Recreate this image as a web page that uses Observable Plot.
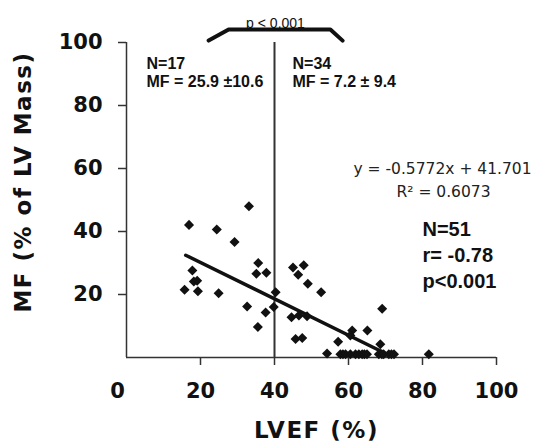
<!DOCTYPE html>
<html>
<head>
<meta charset="utf-8">
<script src="https://cdn.jsdelivr.net/npm/d3@7"></script>
<script src="https://cdn.jsdelivr.net/npm/@observablehq/plot@0.6"></script>
<style>
  html, body { margin: 0; padding: 0; background: #fff; }
  .axis-title text { letter-spacing: 1.5px; }
</style>
</head>
<body>
<div id="chart"></div>
<script>
// LVEF (%) of each patient
const lvef = [
  33.1, 16.9, 24.4, 29.2, 17.8, 35.6, 35.1, 37.8, 18.2, 19.1, 15.7, 19.3, 24.9, 32.6, 37.6, 35.5, 39.8,
  40.3, 45.0, 47.9, 46.4, 49.0, 52.6, 44.6, 46.6, 48.8, 45.7, 47.5, 57.2, 61.0, 65.1, 60.5, 68.6, 69.1,
  54.2, 57.8, 58.5, 59.2, 60.5, 61.9, 62.8, 63.7, 64.3, 65.0, 68.2, 69.0, 69.5, 70.9, 71.6, 72.3, 81.7
];
// MF (% of LV mass) of each patient
const mf = [
  48.0, 42.1, 40.6, 36.7, 27.6, 30.0, 26.6, 26.9, 24.1, 24.4, 21.5, 21.0, 20.4, 16.2, 14.3, 9.7, 16.0,
  20.7, 28.6, 29.3, 26.3, 23.4, 20.7, 12.8, 13.3, 13.1, 5.9, 6.2, 5.0, 8.6, 8.6, 7.0, 4.2, 15.5,
  1.3, 1.0, 1.0, 1.0, 1.0, 1.0, 1.0, 1.0, 1.0, 1.0, 1.0, 1.0, 1.0, 1.0, 1.0, 1.0, 1.0
];
// regression y = slope*x + intercept, drawn over the fitted range
const slope = -0.5772;
const intercept = 41.701;
const fitRange = [16, 71];
// group split at LVEF 40 and comparison bracket
const splitLvef = [40];
const bracketX = [22.2, 27.6, 55.1, 58.4];
const bracketY = [100.6, 104.1, 104.1, 100.6];
// tick labels
const xTicks = [0, 20, 40, 60, 80, 100];
const yTicks = [20, 40, 60, 80, 100];
// annotation texts
const leftGroup = ["N=17", "MF = 25.9 ±10.6"];
const rightGroup = ["N=34", "MF = 7.2 ± 9.4"];
const statsText = ["N=51", "r= -0.78", "p<0.001"];
const eqText = "y = -0.5772x + 41.701";
const r2Text = "R² = 0.6073";
const bracketText = "p < 0.001";
const xTitle = "LVEF (%)";
const yTitle = "MF (% of LV Mass)";

const points = lvef.map((x, i) => ({x, y: mf[i]}));
const fit = fitRange.map(x => ({x, y: slope * x + intercept}));
const bracket = bracketX.map((x, i) => ({x, y: bracketY[i]}));

const bold = {fontFamily: "Liberation Sans, Arial, sans-serif", fontWeight: "bold", fill: "#111"};
const tickFont = {fontFamily: "DejaVu Sans, Verdana, sans-serif", fontWeight: "bold", fontSize: 21, fill: "#111"};
const titleFont = {fontFamily: "DejaVu Sans, Verdana, sans-serif", fontWeight: "bold", fontSize: 23, fill: "#111", className: "axis-title"};

const chart = Plot.plot({
  width: 538,
  height: 448,
  marginLeft: 126,
  marginRight: 42,
  marginTop: 42,
  marginBottom: 91,
  style: {fontFamily: "DejaVu Sans, sans-serif", background: "#fff", overflow: "visible"},
  x: {domain: [0, 100], axis: null},
  y: {domain: [0, 100], axis: null},
  marks: [
    Plot.axisX({ticks: xTicks.filter(d => d > 0), tickSize: 8, tickFormat: () => "", label: null, stroke: "#333", strokeWidth: 1.5}),
    Plot.axisX({ticks: xTicks.filter(d => d > 0), tickSize: 0, tickPadding: 26, label: null, ...tickFont}),
    Plot.axisX({ticks: xTicks.filter(d => d === 0), tickSize: 0, tickPadding: 26, dx: -9, label: null, ...tickFont}),
    Plot.axisY({ticks: yTicks, tickSize: 8, tickPadding: 16, label: null, stroke: "#333", strokeWidth: 1.5, ...tickFont}),
    Plot.ruleY([0], {stroke: "#333", strokeWidth: 1.5}),
    Plot.ruleX([0], {stroke: "#333", strokeWidth: 1.5}),
    Plot.ruleX(splitLvef, {y1: 0, y2: 100, stroke: "#333", strokeWidth: 2}),
    Plot.line(bracket, {x: "x", y: "y", stroke: "#111", strokeWidth: 4, strokeLinejoin: "miter"}),
    Plot.line(fit, {x: "x", y: "y", stroke: "#111", strokeWidth: 3.5}),
    Plot.dot(points, {x: "x", y: "y", symbol: "square", rotate: 45, r: 4, fill: "#111", stroke: null}),
    // group annotations
    Plot.text([leftGroup[0]], {frameAnchor: "top-left", dx: 20, dy: 15, textAnchor: "start", fontSize: 16, ...bold}),
    Plot.text([leftGroup[1]], {frameAnchor: "top-left", dx: 20, dy: 33, textAnchor: "start", fontSize: 16, ...bold}),
    Plot.text([rightGroup[0]], {frameAnchor: "top-left", dx: 166, dy: 15, textAnchor: "start", fontSize: 16, ...bold}),
    Plot.text([rightGroup[1]], {frameAnchor: "top-left", dx: 166, dy: 33, textAnchor: "start", fontSize: 16, ...bold}),
    Plot.text([bracketText], {frameAnchor: "top-left", dx: 149, dy: -24, textAnchor: "middle", fontSize: 14, fontFamily: "Liberation Sans, Arial, sans-serif", fill: "#111"}),
    // regression annotations
    Plot.text([eqText], {frameAnchor: "top-left", dx: 316, dy: 120, textAnchor: "middle", fontSize: 15.5, fontFamily: "DejaVu Sans, Verdana, sans-serif", fill: "#222"}),
    Plot.text([r2Text], {frameAnchor: "top-left", dx: 317, dy: 143, textAnchor: "middle", fontSize: 15.5, fontFamily: "DejaVu Sans, Verdana, sans-serif", fill: "#222"}),
    Plot.text([statsText[0]], {frameAnchor: "top-left", dx: 296, dy: 179, textAnchor: "start", fontSize: 20, ...bold}),
    Plot.text([statsText[1]], {frameAnchor: "top-left", dx: 296, dy: 205, textAnchor: "start", fontSize: 20, ...bold}),
    Plot.text([statsText[2]], {frameAnchor: "top-left", dx: 296, dy: 231, textAnchor: "start", fontSize: 20, ...bold}),
    // axis titles
    Plot.text([xTitle], {frameAnchor: "bottom", dx: 5, dy: 80, textAnchor: "middle", ...titleFont}),
    Plot.text([yTitle], {frameAnchor: "left", dx: -103, dy: -18, rotate: -90, textAnchor: "middle", ...titleFont})
  ]
});
document.getElementById("chart").appendChild(chart);
</script>
</body>
</html>
